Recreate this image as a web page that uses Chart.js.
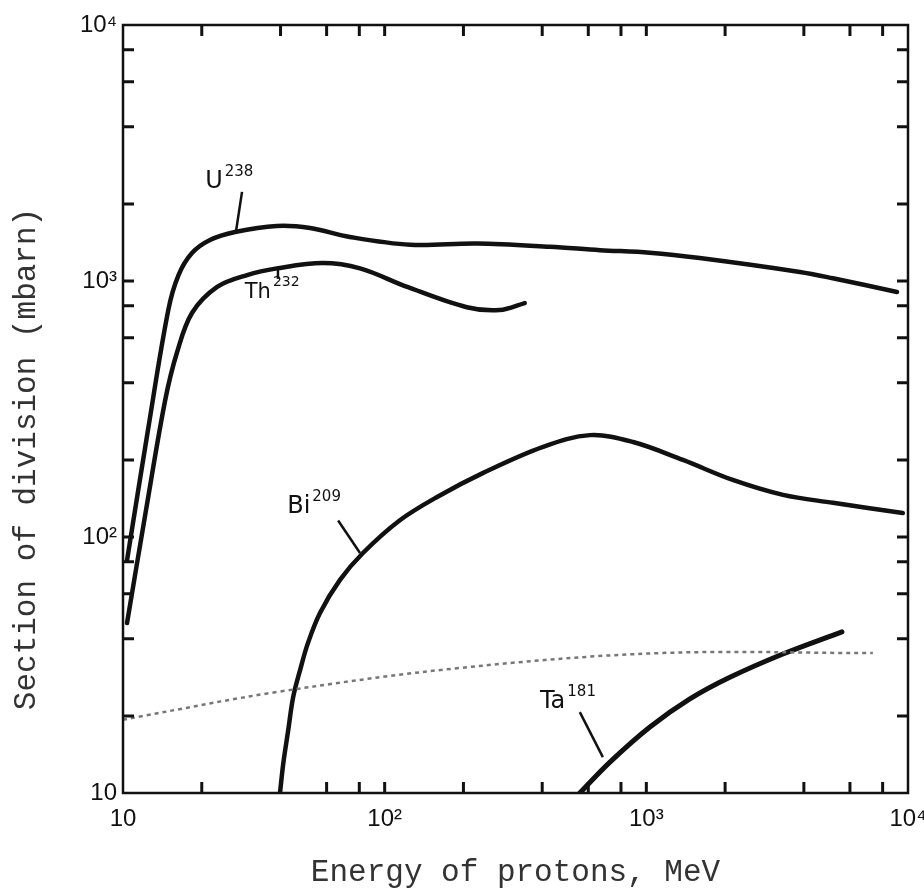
<!DOCTYPE html>
<html><head><meta charset="utf-8">
<script src="https://cdn.jsdelivr.net/npm/chart.js@4"></script>
<style>html,body{margin:0;padding:0;background:#fff;}</style>
</head><body>
<canvas id="c" width="924" height="893"></canvas>
<script>
// ---- data (energy in MeV, cross section in mbarn) ----
const uE  = [10.36, 12.46, 14.9, 16.3, 18.35, 21.5, 26.8, 38.7, 51.9, 73.6, 125, 225, 428, 665, 1030, 1600, 3860, 5160, 9080];
const uS  = [81, 262, 771, 1054, 1285, 1445, 1553, 1640, 1610, 1486, 1385, 1400, 1360, 1320, 1290, 1230, 1085, 1025, 906];
const thE = [10.36, 12.24, 14.5, 16.1, 18.35, 22.9, 29.8, 38.7, 58, 80.5, 122, 206, 275, 343];
const thS = [46.1, 127, 343, 528, 750, 948, 1055, 1120, 1175, 1120, 948, 790, 770, 820];
const biE = [39.8, 41.0, 42.8, 44.7, 47.5, 50.9, 56.6, 67.5, 82.6, 114, 158, 238, 403, 609, 890, 1380, 2140, 3330, 5170, 9550];
const biS = [10, 13.1, 17.6, 23.7, 30.2, 38.5, 50.5, 68, 86.6, 116, 143, 178, 225, 250, 235, 200, 167, 146, 136, 124];
const taE = [557, 726, 1032, 1467, 2086, 3327, 5590];
const taS = [10, 13.2, 18.1, 23.3, 28.3, 34.9, 42.6];
const dotE = [10, 11.3, 38.7, 194, 1127, 7340];
const dotS = [19.3, 19.8, 24.8, 30.8, 35.2, 35.2];

// ---- axes ----
const xLabelVals = [10, 100, 1000, 10000];
const xLabelText = ['10', '10²', '10³', '10⁴'];
const yLabelVals = [10, 100, 1000, 10000];
const yLabelText = ['10', '10²', '10³', '10⁴'];
const xTickVals = [20, 40, 60, 80, 100, 200, 400, 600, 800, 1000, 2000, 4000, 6000, 8000];
const yTickVals = [20, 40, 60, 80, 100, 200, 400, 600, 800, 1000, 2000, 4000, 6000, 8000];
const xTitle = 'Energy of protons, MeV';
const yTitle = 'Section of division (mbarn)';

// ---- curve labels (anchored in data coordinates) ----
const labelNames = ['U', 'Th', 'Bi', 'Ta'];
const labelSups  = ['238', '232', '209', '181'];
const labelE     = [20.6, 29.2, 42.4, 392];
const labelS     = [2307, 859, 124, 21.5];
const leaderFromE = [28.5, 39.1, 66.4, 557];
const leaderFromS = [2228, 1104, 116, 20.7];
const leaderToE   = [27.0, 39.1, 80.5, 682];
const leaderToS   = [1550, 1019, 86.6, 13.8];

const pts = (xs, ys) => xs.map((x, i) => ({x, y: ys[i]}));

const framePlugin = {
  id: 'frame',
  afterDraw(chart) {
    const ctx = chart.ctx, a = chart.chartArea;
    const xs = chart.scales.x, ys = chart.scales.y;
    ctx.save();
    ctx.strokeStyle = '#111';
    ctx.lineWidth = 2.5;
    ctx.strokeRect(a.left, a.top, a.right - a.left, a.bottom - a.top);
    ctx.lineWidth = 3;
    const L = 11;
    ctx.beginPath();
    xTickVals.forEach(v => {
      const p = xs.getPixelForValue(v);
      ctx.moveTo(p, a.bottom); ctx.lineTo(p, a.bottom - L);
      ctx.moveTo(p, a.top); ctx.lineTo(p, a.top + L);
    });
    yTickVals.forEach(v => {
      const p = ys.getPixelForValue(v);
      ctx.moveTo(a.left, p); ctx.lineTo(a.left + L, p);
      ctx.moveTo(a.right, p); ctx.lineTo(a.right - L, p);
    });
    ctx.stroke();
    // curve labels
    ctx.fillStyle = '#111';
    ctx.textBaseline = 'alphabetic';
    labelNames.forEach((t, i) => {
      const px = xs.getPixelForValue(labelE[i]);
      const py = ys.getPixelForValue(labelS[i]);
      const big = i === 1 ? 21 : 24;
      ctx.font = big + 'px "DejaVu Sans"';
      ctx.fillText(t, px, py);
      const w = ctx.measureText(t).width;
      ctx.font = (i === 1 ? 14 : 15) + 'px "DejaVu Sans"';
      ctx.fillText(labelSups[i], px + w + 2, py - 12);
      ctx.lineWidth = 2.5;
      ctx.beginPath();
      ctx.moveTo(xs.getPixelForValue(leaderFromE[i]), ys.getPixelForValue(leaderFromS[i]));
      ctx.lineTo(xs.getPixelForValue(leaderToE[i]), ys.getPixelForValue(leaderToS[i]));
      ctx.stroke();
    });
    // vertical axis title
    ctx.fillStyle = '#333';
    ctx.font = '31px "Liberation Mono"';
    ctx.textAlign = 'center';
    ctx.textBaseline = 'middle';
    ctx.translate(27, 459);
    ctx.rotate(-Math.PI / 2);
    ctx.fillText(yTitle, 0, 0);
    ctx.restore();
  }
};

const curve = (d, w) => ({data: d, borderColor: '#111', borderWidth: w, pointRadius: 0,
  fill: false, tension: 0.35, borderCapStyle: 'round', borderJoinStyle: 'round'});

new Chart(document.getElementById('c'), {
  type: 'line',
  data: {
    datasets: [
      Object.assign(curve(pts(dotE, dotS), 2.5), {borderColor: '#777', borderDash: [4, 4], borderCapStyle: 'butt'}),
      curve(pts(uE, uS), 4.5),
      curve(pts(thE, thS), 4.5),
      curve(pts(biE, biS), 4.5),
      curve(pts(taE, taS), 5)
    ]
  },
  options: {
    responsive: false,
    animation: false,
    layout: {padding: {left: 0, right: 16, top: 25, bottom: 0}},
    plugins: {legend: {display: false}, tooltip: {enabled: false}},
    scales: {
      x: {
        type: 'logarithmic', min: 10, max: 10000,
        grid: {display: false, drawTicks: false},
        border: {display: false},
        ticks: {autoSkip: false, maxRotation: 0, padding: 12, color: '#111',
          font: {family: 'Liberation Sans', size: 24},
          callback: (v) => { const i = xLabelVals.indexOf(v); return i < 0 ? '' : xLabelText[i]; }},
        afterBuildTicks: (s) => { s.ticks = xLabelVals.map(v => ({value: v})); },
        afterFit: (s) => { s.height = 100; s.paddingLeft = 0; s.paddingRight = 0; },
        title: {display: true, text: xTitle, color: '#333',
          font: {family: 'Liberation Mono', size: 31}, padding: {top: 0, bottom: 2}}
      },
      y: {
        type: 'logarithmic', min: 10, max: 10000,
        grid: {display: false, drawTicks: false},
        border: {display: false},
        ticks: {autoSkip: false, padding: 6, color: '#111',
          font: {family: 'Liberation Sans', size: 24},
          callback: (v) => { const i = yLabelVals.indexOf(v); return i < 0 ? '' : yLabelText[i]; }},
        afterBuildTicks: (s) => { s.ticks = yLabelVals.map(v => ({value: v})); },
        afterFit: (s) => { s.width = 123; s.paddingTop = 0; s.paddingBottom = 0; },
        title: {display: false}
      }
    }
  },
  plugins: [framePlugin]
});
</script>
</body></html>
